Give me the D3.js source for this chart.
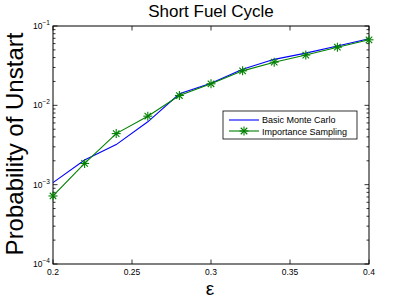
<!DOCTYPE html>
<html><head><meta charset="utf-8">
<script src="https://cdn.jsdelivr.net/npm/d3@7"></script>
<style>body{margin:0;background:#fff}svg{display:block}text{font-family:"Liberation Sans",Arial,sans-serif}</style>
</head><body><svg id="c" width="407" height="303"></svg>
<script>
const epsilon = [0.2,0.22,0.24,0.26,0.28,0.30,0.32,0.34,0.36,0.38,0.40];
const basicMC = [1.06e-3,2.05e-3,3.2e-3,6.2e-3,1.4e-2,1.9e-2,2.85e-2,3.8e-2,4.55e-2,5.6e-2,6.9e-2];
const importanceS = [7.2e-4,1.85e-3,4.4e-3,7.3e-3,1.33e-2,1.87e-2,2.72e-2,3.5e-2,4.3e-2,5.4e-2,6.7e-2];
const xTicks = [0.2,0.25,0.3,0.35,0.4];
const xTickLabels = ["0.2","0.25","0.3","0.35","0.4"];
const yExps = [-4,-3,-2,-1];

const svg = d3.select("#c");
const L=53,R=369,T=26,B=264;
const x = d3.scaleLinear().domain([0.2,0.4]).range([L,R]);
const y = d3.scaleLog().domain([1e-4,1e-1]).range([B,T]);

svg.append("rect").attr("x",L).attr("y",T).attr("width",R-L).attr("height",B-T).attr("fill","#fff");

const minor=[];
for(let e=-4;e<-1;e++) for(let m=2;m<=9;m++) minor.push(m*Math.pow(10,e));
const g = svg.append("g").attr("stroke","#000").attr("stroke-width",0.8);
minor.forEach(v=>{
  g.append("line").attr("x1",L).attr("x2",L+2.5).attr("y1",y(v)).attr("y2",y(v));
  g.append("line").attr("x1",R).attr("x2",R-2.5).attr("y1",y(v)).attr("y2",y(v));
});
yExps.forEach(e=>{
  const v=Math.pow(10,e);
  g.append("line").attr("x1",L).attr("x2",L+4.5).attr("y1",y(v)).attr("y2",y(v));
  g.append("line").attr("x1",R).attr("x2",R-4.5).attr("y1",y(v)).attr("y2",y(v));
});
xTicks.forEach(v=>{
  g.append("line").attr("x1",x(v)).attr("x2",x(v)).attr("y1",B).attr("y2",B-4.5);
  g.append("line").attr("x1",x(v)).attr("x2",x(v)).attr("y1",T).attr("y2",T+4.5);
});
svg.append("rect").attr("x",L).attr("y",T).attr("width",R-L).attr("height",B-T)
  .attr("fill","none").attr("stroke","#000").attr("stroke-width",1);

xTicks.forEach((v,i)=>{
  svg.append("text").attr("x",x(v)).attr("y",B+11).attr("text-anchor","middle")
    .attr("font-size",8.5).text(xTickLabels[i]);
});
yExps.forEach(e=>{
  const t=svg.append("text").attr("x",L-3).attr("y",y(Math.pow(10,e))+3).attr("text-anchor","end").attr("font-size",8.5);
  t.append("tspan").text("10");
  t.append("tspan").attr("dy",-4).attr("font-size",6.5).text("\u2212"+(-e));
});

const line = (arr)=>d3.line().x((d,i)=>x(epsilon[i])).y(d=>y(d))(arr);
svg.append("path").attr("d",line(basicMC)).attr("fill","none").attr("stroke","#0000ff").attr("stroke-width",1.1);
svg.append("path").attr("d",line(importanceS)).attr("fill","none").attr("stroke","#008000").attr("stroke-width",1.1);

function star(gg,cx,cy,r){
  const s=gg.append("g").attr("stroke","#008000").attr("stroke-width",1.1);
  s.append("line").attr("x1",cx-r).attr("x2",cx+r).attr("y1",cy).attr("y2",cy);
  s.append("line").attr("x1",cx).attr("x2",cx).attr("y1",cy-r).attr("y2",cy+r);
  const d=r*0.72;
  s.append("line").attr("x1",cx-d).attr("x2",cx+d).attr("y1",cy-d).attr("y2",cy+d);
  s.append("line").attr("x1",cx-d).attr("x2",cx+d).attr("y1",cy+d).attr("y2",cy-d);
}
const mk=svg.append("g");
importanceS.forEach((v,i)=>star(mk,x(epsilon[i]),y(v),4.5));

const lg=svg.append("g");
lg.append("rect").attr("x",223).attr("y",111).attr("width",134).attr("height",28).attr("fill","#fff").attr("stroke","#000").attr("stroke-width",0.8);
lg.append("line").attr("x1",229).attr("x2",259).attr("y1",120).attr("y2",120).attr("stroke","#0000ff").attr("stroke-width",1.1);
lg.append("line").attr("x1",229).attr("x2",259).attr("y1",131).attr("y2",131).attr("stroke","#008000").attr("stroke-width",1.1);
star(lg,244,131,4.5);
lg.append("text").attr("x",262).attr("y",123).attr("font-size",9).text("Basic Monte Carlo");
lg.append("text").attr("x",262).attr("y",134.5).attr("font-size",9).text("Importance Sampling");

svg.append("text").attr("x",211).attr("y",17).attr("text-anchor","middle").attr("font-size",17).text("Short Fuel Cycle");
svg.append("text").attr("x",210).attr("y",295).attr("text-anchor","middle").attr("font-size",19).text("\u03b5");
svg.append("text").attr("transform","translate(23,144) rotate(-90)").attr("text-anchor","middle").attr("font-size",24).text("Probability of Unstart");
</script></body></html>
